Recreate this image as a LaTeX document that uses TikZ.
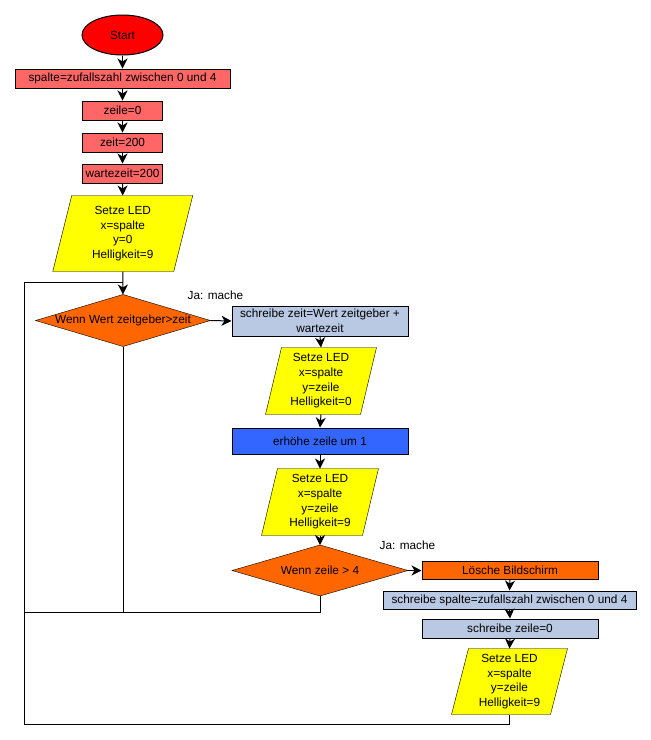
\documentclass[tikz,border=0pt]{standalone}
\usepackage{fontspec}
\setmainfont{Liberation Sans}
\usetikzlibrary{shapes.geometric,arrows.meta,backgrounds}
\definecolor{cred}{RGB}{255,0,0}
\definecolor{csalmon}{RGB}{255,102,102}
\definecolor{cyellow}{RGB}{255,255,0}
\definecolor{corange}{RGB}{255,102,0}
\definecolor{cblue}{RGB}{51,102,255}
\definecolor{cgrey}{RGB}{185,201,227}
\begin{document}
\begin{tikzpicture}[x=1pt,y=-1pt,line width=1pt,
  every node/.style={font=\fontsize{11.8}{14.7}\selectfont,inner sep=0pt,align=center},
  procbox/.style={rectangle,draw,fill=#1},
  plain/.style={rectangle,draw=none},
  arr/.style={-{Stealth[length=10pt,width=10pt,inset=3pt]}},
  iofill/.style={draw,fill=cyellow},
  decfill/.style={draw,fill=corange}]
\useasboundingbox (0,0) rectangle (651,740);

% nodes
\node[ellipse,draw,fill=cred,minimum width=81,minimum height=40] (start) at (122.5,35) {Start};
\node[procbox=csalmon,minimum width=215,minimum height=19] (b1) at (122.5,78.5) {spalte=zufallszahl zwischen 0 und 4};
\node[procbox=csalmon,minimum width=80,minimum height=19] (b2) at (122.5,110.5) {zeile=0};
\node[procbox=csalmon,minimum width=80,minimum height=19] (b3) at (122.5,142.5) {zeit=200};
\node[procbox=csalmon,minimum width=80,minimum height=19] (b4) at (122.5,173.5) {wartezeit=200};
\node[plain,minimum width=120,minimum height=75] (p1) at (122.75,233.5) {Setze LED\\x=spalte\\y=0\\Helligkeit=9};
\node[plain,minimum width=174,minimum height=51] (d1) at (123,320.5) {Wenn Wert zeitgeber>zeit};
\node[procbox=cgrey,minimum width=176,minimum height=30] (c1) at (320,321) {schreibe zeit=Wert zeitgeber +\\wartezeit};
\node[plain,minimum width=94,minimum height=66] (p2) at (321,381) {Setze LED\\x=spalte\\y=zeile\\Helligkeit=0};
\node[procbox=cblue,minimum width=176,minimum height=26] (e1) at (320,441) {erhöhe zeile um 1};
\node[plain,minimum width=100,minimum height=66] (p3) at (320,502) {Setze LED\\x=spalte\\y=zeile\\Helligkeit=9};
\node[plain,minimum width=175,minimum height=50] (d2) at (320,570.5) {Wenn zeile > 4};
\node[procbox=corange,minimum width=176,minimum height=18] (l1) at (510,570.5) {Lösche Bildschirm};
\node[procbox=cgrey,minimum width=253,minimum height=18] (s1) at (509.5,600) {schreibe spalte=zufallszahl zwischen 0 und 4};
\node[procbox=cgrey,minimum width=176,minimum height=19] (z1) at (510,628.5) {schreibe zeile=0};
\node[plain,minimum width=98,minimum height=65] (p4) at (509.5,681.5) {Setze LED\\x=spalte\\y=zeile\\Helligkeit=9};
\node (ja1) at (215.5,295) {Ja: mache};
\node (ja2) at (407.5,545) {Ja: mache};

% shapes behind text
\begin{scope}[on background layer]
  \draw[iofill] ([xshift=-9.5]p1.south west) -- ([xshift=9.5]p1.north west) -- ([xshift=9.5]p1.north east) -- ([xshift=-9.5]p1.south east) -- cycle;
  \draw[iofill] ([xshift=-8]p2.south west) -- ([xshift=8]p2.north west) -- ([xshift=8]p2.north east) -- ([xshift=-8]p2.south east) -- cycle;
  \draw[iofill] ([xshift=-8]p3.south west) -- ([xshift=8]p3.north west) -- ([xshift=8]p3.north east) -- ([xshift=-8]p3.south east) -- cycle;
  \draw[iofill] ([xshift=-8.5]p4.south west) -- ([xshift=8.5]p4.north west) -- ([xshift=8.5]p4.north east) -- ([xshift=-8.5]p4.south east) -- cycle;
  \draw[decfill] (d1.west) -- (d1.north) -- (d1.east) -- (d1.south) -- cycle;
  \draw[decfill] (d2.west) -- (d2.north) -- (d2.east) -- (d2.south) -- cycle;
\end{scope}

% connectors
\draw[arr] (start.south) -- (b1.north);
\draw[arr] (b1.south) -- (b2.north);
\draw[arr] (b2.south) -- (b3.north);
\draw[arr] (b3.south) -- (b4.north);
\draw[arr] (b4.south) -- (p1.north);
\draw[arr] (p1.south) -- (d1.north);
\draw[arr] (d1.east) -- (c1.west);
\draw[arr] (c1.south) -- (p2.north);
\draw[arr] (p2.south) -- (e1.north);
\draw[arr] (e1.south) -- (p3.north);
\draw[arr] (p3.south) -- (d2.north);
\draw[arr] (d2.east) -- (l1.west);
\draw[arr] (l1.south) -- (s1.north);
\draw[arr] (s1.south) -- (z1.north);
\draw[arr] (z1.south) -- (p4.north);

\coordinate (ltop) at (24,282);
\coordinate (lmid) at (24,612);
\coordinate (lbot) at (24,724);
\draw (d1.south) |- (lmid);
\draw (d2.south) |- (lmid);
\draw (p4.south) |- (lbot) -- (ltop) -- (ltop -| d1.north);
\end{tikzpicture}
\end{document}
